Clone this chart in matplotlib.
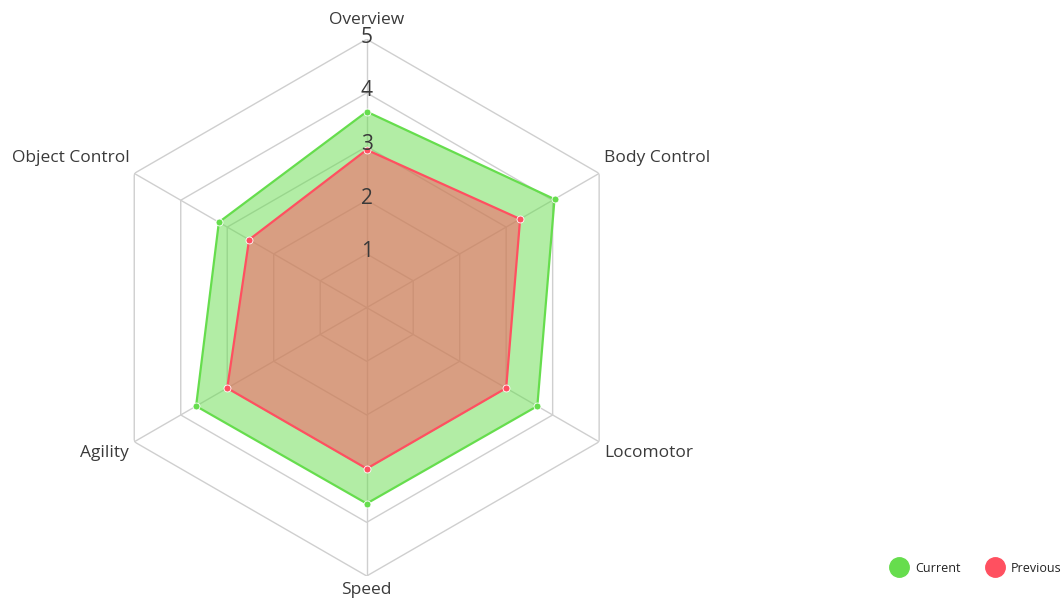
import numpy as np
import matplotlib
matplotlib.use("Agg")
import matplotlib.pyplot as plt
from matplotlib.lines import Line2D

plt.rcParams['font.family'] = ['Open Sans', 'DejaVu Sans']

categories = ["Overview", "Body Control", "Locomotor", "Speed", "Agility", "Object Control"]
current = [3.65, 4.04, 3.67, 3.65, 3.67, 3.18]
previous = [2.94, 3.30, 3.00, 3.00, 3.00, 2.53]
ticks = [1, 2, 3, 4, 5]
series_names = ["Current", "Previous"]

green = "#66DD4D"
red = "#FF5060"
grid_color = "#CFCFCF"
text_color = "#3A3A3A"

W, H = 1062, 601
fig = plt.figure(figsize=(W / 100, H / 100), dpi=100)
cx, cy, R = 366.7, 307.6, 268.4
ax = fig.add_axes([(cx - R) / W, (H - cy - R) / H, 2 * R / W, 2 * R / H], projection='polar')
ax.set_theta_zero_location('N')
ax.set_theta_direction(-1)
ax.set_ylim(0, 5)
ax.grid(False)
ax.set_xticks([])
ax.set_yticks([])
ax.spines['polar'].set_visible(False)
ax.patch.set_alpha(0)

n = len(categories)
theta = np.arange(n) * 2 * np.pi / n
theta_c = np.append(theta, theta[0])

# hexagonal grid
for t in ticks:
    ax.plot(theta_c, [t] * (n + 1), color=grid_color, lw=1.0, zorder=1)
for th in theta:
    ax.plot([th, th], [0, 5], color=grid_color, lw=1.0, zorder=1)

for vals, col in [(current, green), (previous, red)]:
    v = np.append(vals, vals[0])
    ax.fill(theta_c, v, color=col, alpha=0.5, lw=0, zorder=2)
    ax.plot(theta_c, v, color=col, lw=1.6, zorder=3)
    ax.plot(theta, vals, 'o', color=col, ms=5, mec='white', mew=0.6, zorder=4)

# radial tick labels
for t in ticks:
    ax.annotate(str(t), xy=(0, t), xytext=(0, 2), textcoords='offset pixels',
                ha='center', va='center', fontsize=15, color=text_color, zorder=5)

# category labels
offsets = [(0, 19, 'center'), (5, 15, 'left'), (5, -11, 'left'),
           (0, -14, 'center'), (-5, -11, 'right'), (-5, 15, 'right')]
for th, lab, (dx, dy, ha) in zip(theta, categories, offsets):
    ax.annotate(lab, xy=(th, 5), xytext=(dx, dy), textcoords='offset pixels',
                ha=ha, va='center', fontsize=12.5, color=text_color, annotation_clip=False)

handles = [Line2D([], [], marker='o', ls='', color=green, ms=14),
           Line2D([], [], marker='o', ls='', color=red, ms=14)]
fig.legend(handles, series_names, loc='center left', bbox_to_anchor=(880 / W, 1 - 568 / H),
           frameon=False, ncol=2, fontsize=9, handletextpad=0.7, columnspacing=2.15,
           handlelength=1.2, labelcolor='#222222')

fig.savefig("out.png", dpi=100)
